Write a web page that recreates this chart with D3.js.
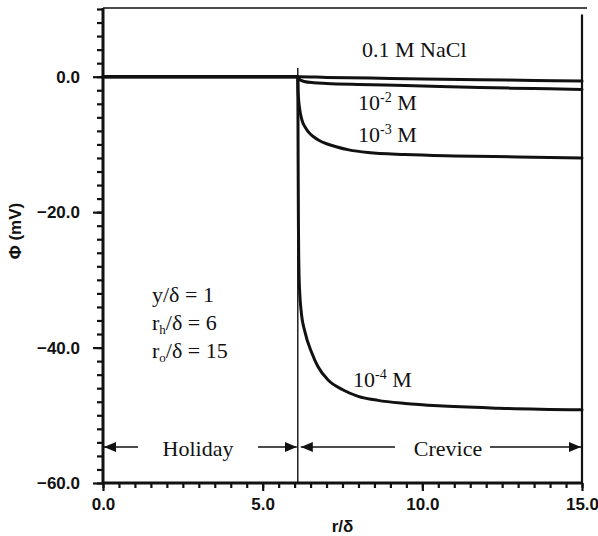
<!DOCTYPE html>
<html><head><meta charset="utf-8">
<script src="https://cdn.jsdelivr.net/npm/d3@7"></script>
<style>
body{margin:0;background:#fff;}
svg{display:block;}
.tick text{font-family:"Liberation Sans",Arial,sans-serif;font-weight:bold;font-size:17px;fill:#111;}
.ann{font-family:"Liberation Serif","Times New Roman",serif;font-size:22px;fill:#111;}
</style></head>
<body>
<script>
// ---- data ----
const rBoundary = 6.1;          // holiday / crevice boundary (r/δ)
const xMajorTicks = [0, 5, 10, 15];
const yMajorTicks = [0, -20, -40, -60];

const r_01M = [0, 6.1, 7, 9, 11.8, 13.5, 15];
const phi_01M = [0, 0, -0.1, -0.25, -0.45, -0.55, -0.65];

const r_1e2 = [0, 6.1, 6.15, 6.3, 6.6, 7.0, 8.0, 9.46, 11.8, 13.5, 15];
const phi_1e2 = [0, 0, -0.4, -0.7, -0.9, -1.0, -1.15, -1.3, -1.6, -1.75, -1.9];

const r_1e3 = [0, 6.1, 6.105, 6.12, 6.16, 6.23, 6.35, 6.5, 6.73, 7.0, 7.27, 7.7, 8.3, 9.46, 11, 13, 15];
const phi_1e3 = [0, 0, -1.5, -3, -4.8, -6.4, -7.6, -8.5, -9.3, -9.9, -10.3, -10.8, -11.2, -11.5, -11.7, -11.85, -12.0];

const r_1e4 = [0, 6.1, 6.11, 6.12, 6.13, 6.14, 6.2, 6.33, 6.54, 6.73, 7.05, 7.49, 7.99, 8.61, 9.46, 10.5, 12.4, 15];
const phi_1e4 = [0, 0, -12, -22, -27, -29.5, -34.4, -37.8, -40.8, -42.8, -44.8, -46.2, -47.2, -47.8, -48.25, -48.6, -48.95, -49.2];

const seriesList = [
  {name: "0.1 M NaCl", r: r_01M, phi: phi_01M},
  {name: "1e-2", r: r_1e2, phi: phi_1e2},
  {name: "1e-3", r: r_1e3, phi: phi_1e3},
  {name: "1e-4", r: r_1e4, phi: phi_1e4}
];

// ---- layout ----
const W = 598, H = 536;
const x = d3.scaleLinear().domain([0, 15]).range([103, 582]);
const y = d3.scaleLinear().domain([-60, 10]).range([483, 9]);

const svg = d3.select("body").append("svg").attr("width", W).attr("height", H);

// frame: top and right lines
svg.append("line").attr("x1", x(0)).attr("x2", x(15) + 5).attr("y1", y(10) - 1).attr("y2", y(10) - 1)
  .attr("stroke", "#111").attr("stroke-width", 1.5);
svg.append("line").attr("x1", x(15)).attr("x2", x(15)).attr("y1", y(9.2)).attr("y2", y(-60))
  .attr("stroke", "#111").attr("stroke-width", 2.2);

// boundary line
svg.append("line").attr("x1", x(rBoundary)).attr("x2", x(rBoundary)).attr("y1", y(1.3)).attr("y2", y(-60))
  .attr("stroke", "#111").attr("stroke-width", 1.4);

// axes
const yMinor = d3.range(10, -60.1, -2);
const xMinor = d3.range(0, 15.01, 0.5);

const gyMinor = svg.append("g").attr("transform", `translate(${x(0)},0)`)
  .call(d3.axisLeft(y).tickValues(yMinor).tickSize(6).tickFormat(""));
const gy = svg.append("g").attr("transform", `translate(${x(0)},0)`)
  .call(d3.axisLeft(y).tickValues(yMajorTicks).tickSize(10).tickPadding(13)
    .tickFormat(d => d === 0 ? "0.0" : "\u2212" + Math.abs(d).toFixed(1)));
const gxMinor = svg.append("g").attr("transform", `translate(0,${y(-60)})`)
  .call(d3.axisBottom(x).tickValues(xMinor).tickSize(5).tickFormat(""));
const gx = svg.append("g").attr("transform", `translate(0,${y(-60)})`)
  .call(d3.axisBottom(x).tickValues(xMajorTicks).tickSize(8).tickPadding(7).tickFormat(d => d.toFixed(1)));

[gyMinor, gy, gxMinor, gx].forEach(g => {
  g.select(".domain").remove();
  g.selectAll(".tick line").attr("stroke", "#111").attr("stroke-width", 2.2);
});
// axis lines (thick)
svg.append("line").attr("x1", x(0)).attr("x2", x(0)).attr("y1", y(10) - 1).attr("y2", y(-60) + 1)
  .attr("stroke", "#111").attr("stroke-width", 3);
svg.append("line").attr("x1", x(0) - 1).attr("x2", x(15) + 1).attr("y1", y(-60)).attr("y2", y(-60))
  .attr("stroke", "#111").attr("stroke-width", 3);

// axis titles
svg.append("text").attr("x", x(7.5)).attr("y", 532).attr("text-anchor", "middle")
  .attr("font-family", "Liberation Sans, Arial, sans-serif").attr("font-weight", "bold").attr("font-size", 17)
  .attr("fill", "#111").text("r/δ");
svg.append("text").attr("transform", "translate(21,231) rotate(-90)").attr("text-anchor", "middle")
  .attr("font-family", "Liberation Sans, Arial, sans-serif").attr("font-weight", "bold").attr("font-size", 17)
  .attr("fill", "#111").text("Φ (mV)");

// curves
const line = d3.line().x(d => x(d[0])).y(d => y(d[1])).curve(d3.curveMonotoneX);
seriesList.forEach(s => {
  const pts = s.r.map((rv, i) => [rv, s.phi[i]]);
  svg.append("path").datum(pts).attr("d", line).attr("fill", "none")
    .attr("stroke", "#111").attr("stroke-width", 3).attr("stroke-linejoin", "round").attr("stroke-linecap", "round");
});

// curve labels
svg.append("text").attr("class", "ann").attr("x", 362).attr("y", 57).text("0.1 M NaCl");
function powLabel(xp, yp, exp) {
  const t = svg.append("text").attr("class", "ann").attr("x", xp).attr("y", yp);
  t.append("tspan").text("10");
  t.append("tspan").attr("dy", -8).attr("font-size", 14).text(exp);
  t.append("tspan").attr("dy", 8).text(" M");
}
powLabel(358, 110, "-2");
powLabel(358, 142, "-3");
powLabel(353, 387, "-4");

// parameter text
svg.append("text").attr("class", "ann").attr("x", 152).attr("y", 302).text("y/δ = 1");
const p2 = svg.append("text").attr("class", "ann").attr("x", 152).attr("y", 330);
p2.append("tspan").text("r");
p2.append("tspan").attr("dy", 4).attr("font-size", 13).text("h");
p2.append("tspan").attr("dy", -4).text("/δ = 6");
const p3 = svg.append("text").attr("class", "ann").attr("x", 152).attr("y", 358);
p3.append("tspan").text("r");
p3.append("tspan").attr("dy", 4).attr("font-size", 13).text("o");
p3.append("tspan").attr("dy", -4).text("/δ = 15");

// region arrows
const defs = svg.append("defs");
defs.append("marker").attr("id", "ah").attr("viewBox", "0 0 12 10").attr("refX", 12).attr("refY", 5)
  .attr("markerWidth", 12).attr("markerHeight", 10).attr("markerUnits", "userSpaceOnUse").attr("orient", "auto")
  .append("path").attr("d", "M0,0 L12,5 L0,10 Z").attr("fill", "#111");
const ay = 447;
function arrow(x1, x2) {
  svg.append("line").attr("x1", x1).attr("x2", x2).attr("y1", ay).attr("y2", ay)
    .attr("stroke", "#111").attr("stroke-width", 1.3).attr("marker-end", "url(#ah)");
}
arrow(138, x(0) + 1);
arrow(258, x(rBoundary) - 1);
arrow(395, x(rBoundary) + 3);
arrow(490, x(15) - 1);
svg.append("text").attr("class", "ann").attr("x", 198).attr("y", 456).attr("text-anchor", "middle").text("Holiday");
svg.append("text").attr("class", "ann").attr("x", 448).attr("y", 456).attr("text-anchor", "middle").text("Crevice");
</script>
</body></html>
